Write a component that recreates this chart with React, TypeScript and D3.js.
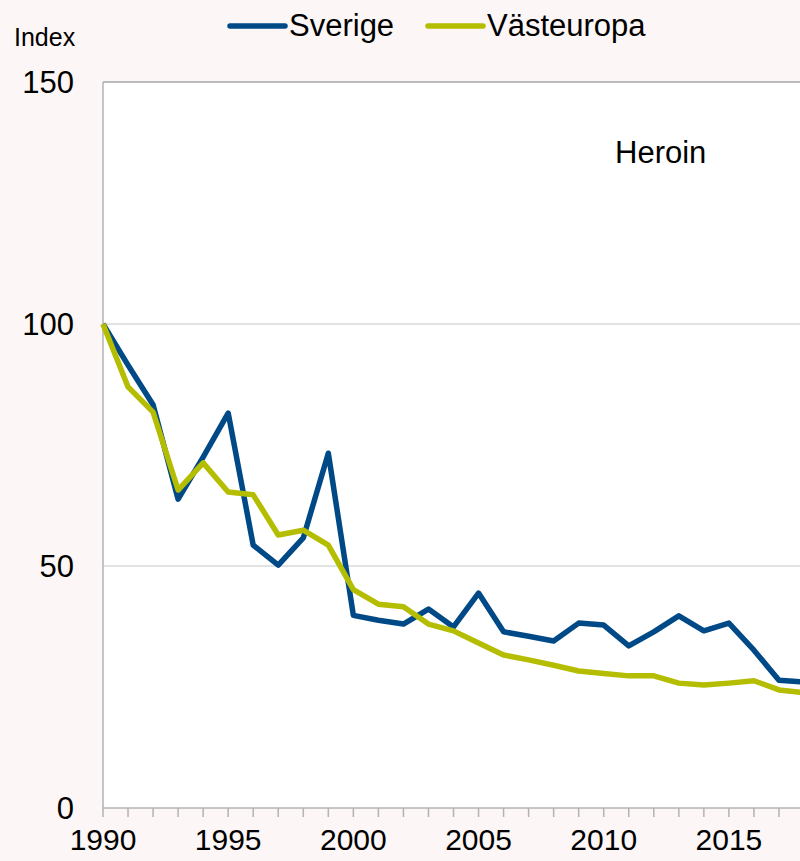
import React, { useEffect, useRef } from 'react';
import * as d3 from 'd3';

const years = d3.range(1990, 2019);
const sverige = [100, 91.5, 83.3, 63.8, 72.5, 81.6, 54.3, 50.2, 55.8, 73.3, 39.8, 38.8, 38.0, 41.1, 37.4, 44.4, 36.4, 35.5, 34.5, 38.2, 37.8, 33.5, 36.4, 39.7, 36.6, 38.2, 32.6, 26.4, 26.0];
const vasteuropa = [100, 87.0, 81.8, 65.7, 71.3, 65.3, 64.7, 56.4, 57.4, 54.3, 45.1, 42.1, 41.6, 38.0, 36.6, 34.1, 31.6, 30.6, 29.5, 28.3, 27.8, 27.3, 27.3, 25.8, 25.4, 25.8, 26.3, 24.4, 23.8];
const yTicks = [0, 50, 100, 150];
const xLabels = [1990, 1995, 2000, 2005, 2010, 2015];
const seriesNames = ['Sverige', 'Västeuropa'];
const seriesColors = ['#004987', '#b4bd00'];

export default ({ width = 800, height = 861 }) => {
  const svgRef = useRef<SVGSVGElement>(null);

  function loadGraph(elm: SVGSVGElement) {
    const font = '"Liberation Sans", Arial, sans-serif';
    const svg = d3.select(elm).attr('width', width).attr('height', height);
    svg.selectAll('*').remove();

    const x = d3.scaleLinear().domain([1990, 2018]).range([103, 804]);
    const y = d3.scaleLinear().domain([0, 150]).range([808, 82]);

    svg.append('rect').attr('width', width).attr('height', height).attr('fill', '#fcf6f6');
    svg.append('rect')
      .attr('x', x(1990)).attr('y', y(150))
      .attr('width', width - x(1990)).attr('height', y(0) - y(150))
      .attr('fill', '#ffffff');

    // grid
    svg.selectAll('line.grid')
      .data(yTicks.filter(d => d > 0))
      .enter().append('line')
      .attr('x1', x(1990)).attr('x2', width)
      .attr('y1', d => y(d)).attr('y2', d => y(d))
      .attr('stroke', d => d === 150 ? '#a6a6a6' : '#d9d9d9')
      .attr('stroke-width', 1.5);

    // y axis line
    svg.append('line')
      .attr('x1', x(1990)).attr('x2', x(1990))
      .attr('y1', y(150)).attr('y2', y(0))
      .attr('stroke', '#b3b3b3').attr('stroke-width', 1.5);

    // x axis
    svg.append('line')
      .attr('x1', x(1990)).attr('x2', width)
      .attr('y1', y(0)).attr('y2', y(0))
      .attr('stroke', '#b3b3b3').attr('stroke-width', 1.5);
    svg.selectAll('line.xtick')
      .data(years)
      .enter().append('line')
      .attr('x1', d => x(d)).attr('x2', d => x(d))
      .attr('y1', y(0)).attr('y2', y(0) + 9)
      .attr('stroke', '#b3b3b3').attr('stroke-width', 1.5);

    svg.selectAll('text.xlab')
      .data(xLabels)
      .enter().append('text')
      .attr('x', d => x(d)).attr('y', 850)
      .attr('text-anchor', 'middle')
      .attr('font-family', font).attr('font-size', 30)
      .attr('fill', '#000')
      .text(d => d);

    svg.selectAll('text.ylab')
      .data(yTicks)
      .enter().append('text')
      .attr('x', 74).attr('y', d => y(d) + 11)
      .attr('text-anchor', 'end')
      .attr('font-family', font).attr('font-size', 31)
      .attr('fill', '#000')
      .text(d => d);

    svg.append('text')
      .attr('x', 14).attr('y', 46)
      .attr('font-family', font).attr('font-size', 25)
      .text('Index');

    svg.append('text')
      .attr('x', 615).attr('y', 163)
      .attr('font-family', font).attr('font-size', 31)
      .text('Heroin');

    const line = d3.line<number>()
      .x((_, i) => x(years[i]))
      .y(d => y(d));

    [sverige, vasteuropa].forEach((s, i) => {
      svg.append('path')
        .attr('d', line(s))
        .attr('fill', 'none')
        .attr('stroke', seriesColors[i])
        .attr('stroke-width', 5.5)
        .attr('stroke-linejoin', 'round');
    });

    // legend
    const legendX = [230, 428];
    seriesNames.forEach((name, i) => {
      svg.append('line')
        .attr('x1', legendX[i]).attr('x2', legendX[i] + 55)
        .attr('y1', 26).attr('y2', 26)
        .attr('stroke', seriesColors[i])
        .attr('stroke-width', 5.5)
        .attr('stroke-linecap', 'round');
      svg.append('text')
        .attr('x', legendX[i] + 59).attr('y', 36)
        .attr('font-family', font).attr('font-size', 31)
        .text(name);
    });
  }

  useEffect(() => {
    if (svgRef.current) {
      loadGraph(svgRef.current);
    }
  }, [svgRef.current]);

  return <svg ref={svgRef} style={{ position: 'absolute', left: 0, top: 0 }}></svg>;
}
